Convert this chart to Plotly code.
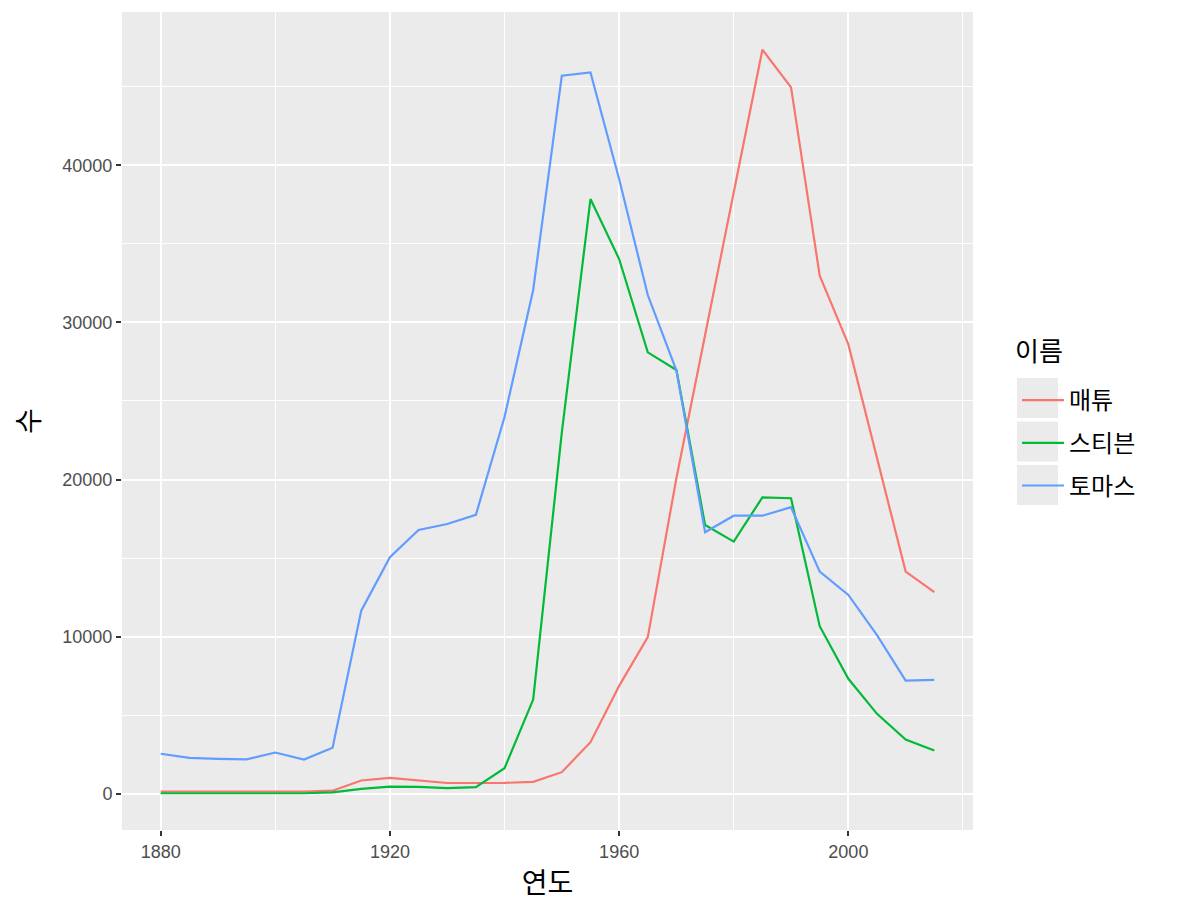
import plotly.graph_objects as go

years = list(range(1880, 2020, 5))
names = ["매튜", "스티븐", "토마스"]
matthew = [150, 150, 140, 140, 150, 150, 200, 850, 1020, 870, 690, 690, 700, 760,
           1380, 3290, 6870, 9970, 20100, 29200, 38300, 47350, 44950, 32970,
           28600, 21400, 14140, 12830]
steven = [40, 40, 30, 30, 50, 40, 100, 320, 460, 450, 360, 430, 1630, 6000,
          23000, 37850, 34030, 28090, 26970, 17110, 16050, 18870, 18810, 10670,
          7320, 5090, 3460, 2760]
thomas = [2550, 2290, 2230, 2200, 2630, 2180, 2930, 11660, 15060, 16790, 17170,
          17750, 23980, 32060, 45700, 45910, 39120, 31740, 26930, 16650, 17700,
          17700, 18240, 14140, 12660, 10100, 7210, 7250]
colors = ["#F8766D", "#00BA38", "#619CFF"]
x_ticks = [1880, 1920, 1960, 2000]
y_ticks = [0, 10000, 20000, 30000, 40000]
y_tick_text = ["0", "10000", "20000", "30000", "40000"]

KR = "Noto Sans CJK KR"
fig = go.Figure()
for i, (nm, vals) in enumerate(zip(names, [matthew, steven, thomas])):
    fig.add_trace(go.Scatter(x=years, y=vals, mode="lines", name=nm,
                             legendgroup=nm,
                             line=dict(color=colors[i], width=2.2)))

axis_common = dict(showline=False, zeroline=False, ticks="outside", ticklen=5,
                   tickcolor="#333333", tickwidth=1.5, automargin=False,
                   gridcolor="white", gridwidth=2,
                   tickfont=dict(family="Liberation Sans, Arial", size=18, color="#4d4d4d"))
fig.update_xaxes(range=[1873.25, 2021.75], tickvals=x_ticks,
                 minor=dict(showgrid=True, dtick=20, tick0=1880, gridcolor="white", gridwidth=1),
                 title=dict(text="연도", font=dict(family=KR, size=28, color="black"), standoff=12),
                 **axis_common)
fig.update_yaxes(range=[-2300, 49750], tickvals=y_ticks, ticktext=y_tick_text,
                 minor=dict(showgrid=True, dtick=5000, tick0=0, gridcolor="white", gridwidth=1),
                 title=dict(text="수", font=dict(family=KR, size=28, color="black"), standoff=14),
                 **axis_common)

# legend key backgrounds
for k in range(3):
    y0 = 378 + k * 43.5
    fig.add_shape(type="rect", xref="paper", yref="paper",
                  x0=(1017 - 122) / 851, x1=(1058 - 122) / 851,
                  y0=(830 - (y0 + 40)) / 818, y1=(830 - y0) / 818,
                  fillcolor="#ebebeb", line=dict(width=0), layer="below")

fig.add_annotation(text="이름", xref="paper", yref="paper",
                   x=(1013 - 122) / 851, y=(830 - 350) / 818, xanchor="left", yanchor="middle",
                   showarrow=False, font=dict(family=KR, size=26, color="black"))

fig.update_layout(
    width=1184, height=912,
    margin=dict(l=122, r=211, t=12, b=82),
    plot_bgcolor="#ebebeb", paper_bgcolor="white",
    legend=dict(x=(1017 - 122) / 851, y=(830 - 378) / 818, xanchor="left", yanchor="top",
                font=dict(family=KR, size=24, color="black"), itemwidth=42,
                tracegroupgap=8.5, bgcolor="rgba(0,0,0,0)"),
)
fig.write_html("out.html")
